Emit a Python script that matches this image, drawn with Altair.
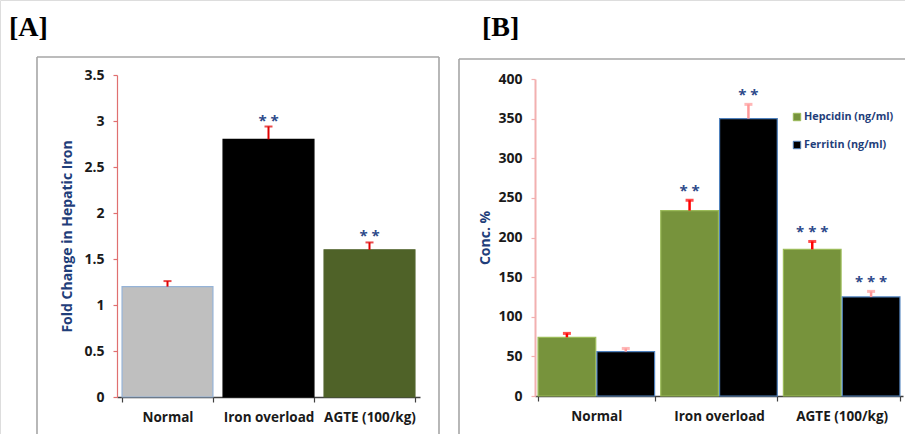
import altair as alt
import pandas as pd

# ---------------- data ----------------
groups = ["Normal", "Iron overload", "AGTE (100/kg)"]

# Panel A: fold change in hepatic iron
fold_change = [1.2, 2.8, 1.6]
fold_err = [0.06, 0.14, 0.08]
fold_stars = ["", "* *", "* *"]
colors_a = ["#BFBFBF", "#000000", "#4F6228"]
strokes_a = ["#95B3D7", "#000000", "#4F6228"]

# Panel B: concentrations
series = ["Hepcidin (ng/ml)", "Ferritin (ng/ml)"]
hepcidin = [74, 234, 185]
hepcidin_err = [5, 13, 10]
hep_stars = ["", "* *", "* * *"]
ferritin = [56, 350, 125]
ferritin_err = [4, 18, 7]
fer_stars = ["", "* *", "* * *"]
colors_b = ["#77933C", "#000000"]
strokes_b = ["#9BBB59", "#4F81BD"]
errcolors_b = ["#FF0000", "#FF9999"]

FONT = "Open Sans"
LABEL_COLOR = "#1A1A1A"
TITLE_BLUE = "#1F3E7A"

df_a = pd.DataFrame({"group": groups, "value": fold_change, "err": fold_err, "stars": fold_stars})
df_a["top"] = df_a["value"] + df_a["err"]

rows = []
for i, g in enumerate(groups):
    rows.append({"group": g, "series": series[0], "value": hepcidin[i], "err": hepcidin_err[i], "stars": hep_stars[i]})
    rows.append({"group": g, "series": series[1], "value": ferritin[i], "err": ferritin_err[i], "stars": fer_stars[i]})
df_b = pd.DataFrame(rows)
df_b["top"] = df_b["value"] + df_b["err"]

W, H = 905, 434

# ---------------- Panel A ----------------
xa_scale = alt.Scale(domain=groups, range=[117, 420], paddingInner=0.1, paddingOuter=0.05)
ya_scale = alt.Scale(domain=[0, 3.5], range=[397, 75], nice=False)

xa = alt.X("group:N", scale=xa_scale, sort=groups,
           axis=alt.Axis(orient="bottom", offset=-(H - 397), title=None, labelAngle=0,
                         labelFont=FONT, labelFontSize=13.5, labelFontWeight="bold",
                         labelColor=LABEL_COLOR, labelPadding=8, tickBand="extent",
                         domainColor="#404040", domainWidth=1.5, tickColor="#404040",
                         tickSize=5, tickWidth=1.2, grid=False))
ya_axis = alt.Axis(orient="left", offset=-117, title="Fold Change in Hepatic Iron",
                   titleFont=FONT, titleFontSize=14, titleFontWeight="bold", titleColor=TITLE_BLUE,
                   titlePadding=9, titleLimit=400, labelFont=FONT, labelFontSize=14, labelFontWeight="bold",
                   labelColor=LABEL_COLOR, labelPadding=9, values=[0, 0.5, 1, 1.5, 2, 2.5, 3, 3.5],
                   format="~g", domainColor="#E07070", domainWidth=1.2, tickColor="#E07070",
                   tickSize=4, tickWidth=1.2, grid=False)

base_a = alt.Chart(df_a)
bars_a = base_a.mark_bar(strokeWidth=1.2).encode(
    x=xa,
    y=alt.Y("value:Q", scale=ya_scale, axis=ya_axis),
    color=alt.Color("group:N", scale=alt.Scale(domain=groups, range=colors_a), legend=None),
    stroke=alt.Stroke("group:N", scale=alt.Scale(domain=groups, range=strokes_a), legend=None),
)
err_a = base_a.mark_rule(color="#E00000", strokeWidth=2).encode(
    x=alt.X("group:N", scale=xa_scale, sort=groups),
    y=alt.Y("value:Q", scale=ya_scale),
    y2="top:Q",
)
cap_a = base_a.mark_tick(color="#E00000", size=8, thickness=2).encode(
    x=alt.X("group:N", scale=xa_scale, sort=groups),
    y=alt.Y("top:Q", scale=ya_scale),
)
stars_a = base_a.mark_text(color="#2E4A8A", font=FONT, fontSize=15, fontWeight="bold",
                           baseline="middle", dy=-6).encode(
    x=alt.X("group:N", scale=xa_scale, sort=groups),
    y=alt.Y("top:Q", scale=ya_scale),
    text="stars:N",
)
panel_a = alt.layer(bars_a, err_a, cap_a, stars_a)

# ---------------- Panel B ----------------
xb_scale = alt.Scale(domain=groups, range=[535, 903], paddingInner=0.05, paddingOuter=0.025)
yb_scale = alt.Scale(domain=[0, 400], range=[396, 79], nice=False)
off_scale = alt.Scale(domain=series, paddingInner=0.02)

xb = alt.X("group:N", scale=xb_scale, sort=groups,
           axis=alt.Axis(orient="bottom", offset=-(H - 396), title=None, labelAngle=0,
                         labelFont=FONT, labelFontSize=13.5, labelFontWeight="bold",
                         labelColor=LABEL_COLOR, labelPadding=8, tickBand="extent",
                         domainColor="#404040", domainWidth=1.5, tickColor="#404040",
                         tickSize=5, tickWidth=1.2, grid=False))
yb_axis = alt.Axis(orient="left", offset=-535, title="Conc. %",
                   titleFont=FONT, titleFontSize=14, titleFontWeight="bold", titleColor=TITLE_BLUE,
                   titlePadding=5, labelFont=FONT, labelFontSize=14, labelFontWeight="bold",
                   labelColor=LABEL_COLOR, labelPadding=9, values=list(range(0, 401, 50)),
                   domainColor="#F2B0B0", domainWidth=2, tickColor="#F2B0B0",
                   tickSize=4, tickWidth=1.2, grid=False)

base_b = alt.Chart(df_b)
xoff = alt.XOffset("series:N", scale=off_scale, sort=series)
bars_b = base_b.mark_bar(strokeWidth=1.2).encode(
    x=xb,
    xOffset=xoff,
    y=alt.Y("value:Q", scale=yb_scale, axis=yb_axis),
    color=alt.Color("series:N", scale=alt.Scale(domain=series, range=colors_b), legend=None),
    stroke=alt.Stroke("series:N", scale=alt.Scale(domain=series, range=strokes_b), legend=None),
)

err_layers = []
for s, c in zip(series, errcolors_b):
    sub = base_b.transform_filter(alt.datum.series == s)
    err_layers.append(sub.mark_rule(strokeWidth=2.5, color=c).encode(
        x=alt.X("group:N", scale=xb_scale, sort=groups),
        xOffset=xoff,
        y=alt.Y("value:Q", scale=yb_scale),
        y2="top:Q",
    ))
    err_layers.append(sub.mark_tick(size=8, thickness=3, color=c).encode(
        x=alt.X("group:N", scale=xb_scale, sort=groups),
        xOffset=xoff,
        y=alt.Y("top:Q", scale=yb_scale),
    ))

stars_b = base_b.mark_text(color="#2E4A8A", font=FONT, fontSize=15, fontWeight="bold",
                           baseline="middle", dy=-9).encode(
    x=alt.X("group:N", scale=xb_scale, sort=groups),
    xOffset=xoff,
    y=alt.Y("top:Q", scale=yb_scale),
    text="stars:N",
)

# legend drawn as marks
df_leg = pd.DataFrame({"series": series, "row": [0, 1]})
leg_y = alt.Y("row:Q", scale=alt.Scale(domain=[0, 1], range=[117, 145], nice=False, zero=False), axis=None)
leg_sq = alt.Chart(df_leg).mark_square(size=55, opacity=1, strokeWidth=1).encode(
    x=alt.value(797),
    y=leg_y,
    color=alt.Color("series:N", scale=alt.Scale(domain=series, range=colors_b), legend=None),
    stroke=alt.Stroke("series:N", scale=alt.Scale(domain=series, range=strokes_b), legend=None),
)
leg_tx = alt.Chart(df_leg).mark_text(align="left", baseline="middle", font=FONT, fontSize=10.8,
                                     fontWeight="bold", color=TITLE_BLUE).encode(
    x=alt.value(804),
    y=leg_y,
    text="series:N",
)
panel_b = alt.layer(bars_b, *err_layers, stars_b)

# ---------------- frames and panel labels ----------------
frame_style = dict(color="#A6A6A6", strokeWidth=1.6)
frames = alt.layer(
    alt.Chart().mark_rule(**frame_style).encode(x=alt.value(37), x2=alt.value(439), y=alt.value(57)),
    alt.Chart().mark_rule(**frame_style).encode(x=alt.value(37), y=alt.value(57), y2=alt.value(H + 5)),
    alt.Chart().mark_rule(**frame_style).encode(x=alt.value(439), y=alt.value(57), y2=alt.value(H + 5)),
    alt.Chart().mark_rule(**frame_style).encode(x=alt.value(459), x2=alt.value(W + 5), y=alt.value(59)),
    alt.Chart().mark_rule(**frame_style).encode(x=alt.value(459), y=alt.value(59), y2=alt.value(H + 5)),
)
panel_labels = alt.layer(
    alt.Chart().mark_text(text="[A]", font="Liberation Serif", fontSize=28, fontWeight="bold",
                          align="left", baseline="alphabetic", color="#000000").encode(
        x=alt.value(9), y=alt.value(36)),
    alt.Chart().mark_text(text="[B]", font="Liberation Serif", fontSize=28, fontWeight="bold",
                          align="left", baseline="alphabetic", color="#000000").encode(
        x=alt.value(482), y=alt.value(36)),
)

chart = alt.layer(
    frames, panel_labels, panel_a, panel_b, leg_sq, leg_tx
).resolve_scale(
    x="independent", y="independent", color="independent", stroke="independent", xOffset="independent"
).properties(
    width=W, height=H, autosize=alt.AutoSizeParams(type="none"), padding=0
).configure_view(stroke=None).configure(background="white")

chart.save("out.html", embed_options={"renderer": "svg", "actions": False})
